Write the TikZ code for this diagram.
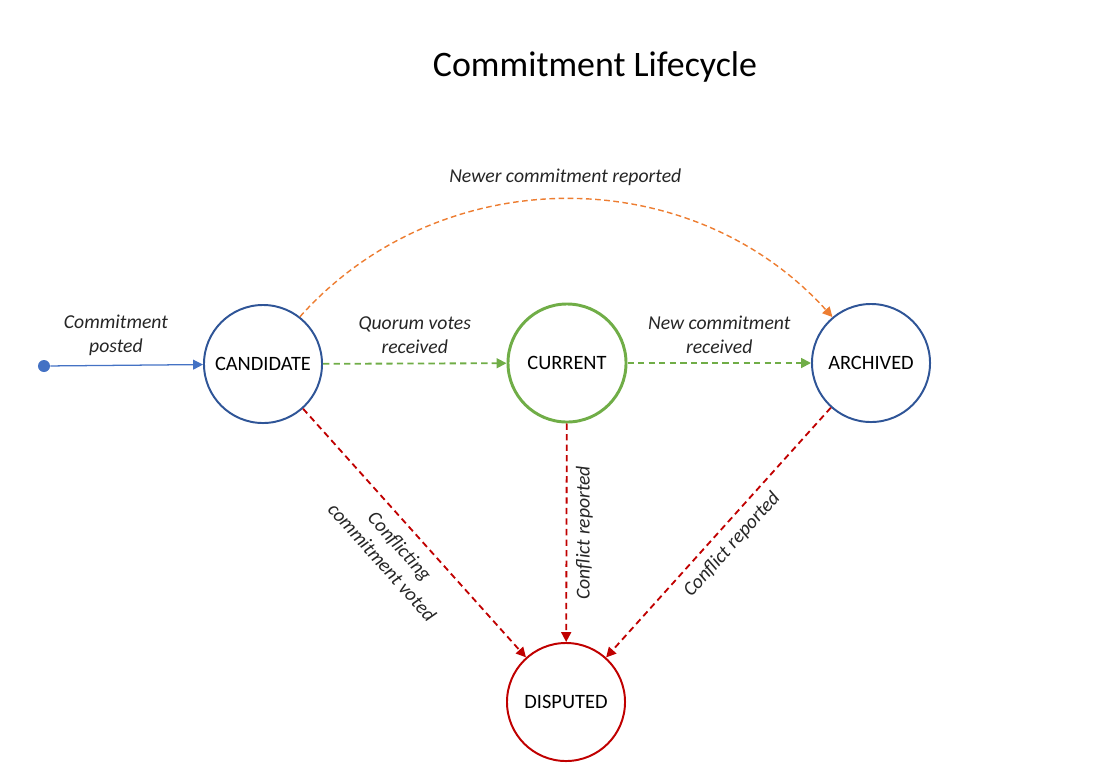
\documentclass[tikz,border=0pt]{standalone}
\usepackage{fontspec}
\setmainfont{Carlito}
\usetikzlibrary{arrows.meta}
\definecolor{stateblue}{HTML}{2F5597}
\definecolor{startblue}{HTML}{4472C4}
\definecolor{okgreen}{HTML}{70AD47}
\definecolor{newerorange}{HTML}{ED7D31}
\definecolor{conflictred}{HTML}{C00000}
\definecolor{labelgray}{HTML}{262626}

\begin{document}
\begin{tikzpicture}[x=0.025cm,y=-0.025cm,>={Triangle[length=7pt,width=7pt]},
    state/.style={circle,draw,line width=1.4pt,minimum size=2.95cm,inner sep=0pt,
      font=\fontsize{14.5}{17}\selectfont},
    lbl/.style={font=\fontsize{14}{17}\selectfont\itshape,text=labelgray,align=center},
    flow/.style={->,dash pattern=on 4.5pt off 3pt,line width=1.3pt}]
      \useasboundingbox (0,0) rectangle (1097,771);
      \node[font=\fontsize{25.5}{30}\selectfont] (title) at (595,67) {Commitment Lifecycle};
      % states
      \node[state,draw=stateblue] (cand) at (263,364) {CANDIDATE};
      \node[state,draw=okgreen,line width=2.1pt] (curr) at (567,363) {CURRENT};
      \node[state,draw=stateblue] (arch) at (871,363) {ARCHIVED};
      \node[state,draw=conflictred] (disp) at (566,702) {DISPUTED};
      \node[circle,fill=startblue,inner sep=0pt,minimum size=0.3cm] (start) at (44,366) {};
      % transitions
      \draw[->,startblue,line width=0.9pt] (start) -- (cand)
        node[lbl,pos=0.43,above=3pt] (lposted) {Commitment\\posted};
      \draw[flow,okgreen] (cand) -- (curr)
        node[lbl,midway,above=3pt] (lquorum) {Quorum votes\\received};
      \draw[flow,okgreen] (curr) -- (arch)
        node[lbl,midway,above=3pt] (lnew) {New commitment\\received};
      \draw[->,newerorange,line width=1pt,dash pattern=on 4pt off 2.5pt]
        (cand.52) .. controls (440,160) and (690,160) .. (arch.130)
        node[lbl,pos=0.5,above=6pt] (lnewer) {Newer commitment reported};
      \draw[flow,conflictred] (cand) -- (disp)
        node[lbl,midway,sloped,below=5pt] (lconflicting) {Conflicting\\commitment voted};
      \draw[flow,conflictred] (curr) -- (disp)
        node[lbl,midway,rotate=90,anchor=north,inner sep=6pt] (lcurrconf) {Conflict reported};
      \draw[flow,conflictred] (arch) -- (disp)
        node[lbl,midway,sloped,below=3pt] (larchconf) {Conflict reported};
    \end{tikzpicture}
\end{document}
